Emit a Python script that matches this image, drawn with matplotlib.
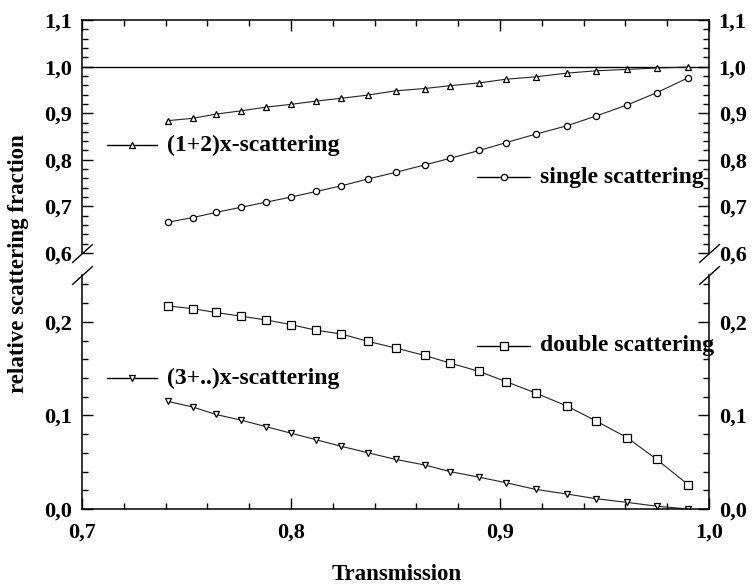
import matplotlib
matplotlib.use("Agg")
import matplotlib.pyplot as plt
from matplotlib.ticker import MultipleLocator, FuncFormatter

plt.rcParams['font.family'] = ['Liberation Serif', 'DejaVu Serif']
plt.rcParams['font.weight'] = 'bold'

# transmission values
trans = [0.741, 0.753, 0.764, 0.776, 0.788, 0.800, 0.812, 0.824, 0.837, 0.850,
         0.864, 0.876, 0.890, 0.903, 0.917, 0.932, 0.946, 0.961, 0.975, 0.990]
# (1+2)x-scattering
multi12 = [0.884, 0.889, 0.898, 0.905, 0.913, 0.919, 0.926, 0.932, 0.939, 0.948,
           0.953, 0.959, 0.965, 0.973, 0.978, 0.986, 0.991, 0.994, 0.997, 0.999]
# single scattering
single = [0.666, 0.676, 0.687, 0.698, 0.709, 0.720, 0.732, 0.744, 0.759, 0.773,
          0.789, 0.803, 0.820, 0.837, 0.855, 0.873, 0.894, 0.918, 0.944, 0.976]
# double scattering
double = [0.217, 0.214, 0.210, 0.206, 0.202, 0.197, 0.191, 0.187, 0.179, 0.172,
          0.164, 0.156, 0.147, 0.136, 0.124, 0.110, 0.094, 0.076, 0.053, 0.026]
# (3+..)x-scattering
multi3 = [0.115, 0.109, 0.101, 0.095, 0.088, 0.081, 0.074, 0.067, 0.060, 0.053,
          0.047, 0.040, 0.034, 0.028, 0.021, 0.016, 0.011, 0.007, 0.003, 0.000]

W, H = 754, 588
fig = plt.figure(figsize=(W / 100, H / 100), dpi=100)

def fx(px):
    return px / W

def fy(py):
    return 1 - py / H

ax_top = fig.add_axes([fx(82), fy(253), fx(709) - fx(82), fy(20) - fy(253)])
ax_bot = fig.add_axes([fx(82), fy(509), fx(709) - fx(82), fy(275) - fy(509)])

comma = FuncFormatter(lambda v, p: ('%.1f' % v).replace('.', ','))
lw = 0.8
ms_kw = dict(color='#222222', lw=lw, mfc='white', mec='black', mew=0.9)

ax_top.axhline(1.0, color='black', lw=1.0)
ax_top.plot(trans, multi12, marker='^', ms=5, **ms_kw)
ax_top.plot(trans, single, marker='o', ms=4.5, **ms_kw)
ax_bot.plot(trans, double, marker='s', ms=5.5, **ms_kw)
ax_bot.plot(trans, multi3, marker='v', ms=5, **ms_kw)

ax_top.set_ylim(0.6, 1.1)
ax_bot.set_ylim(0.0, 0.25)
for ax in (ax_top, ax_bot):
    ax.set_xlim(0.7, 1.0)
    ax.xaxis.set_major_locator(MultipleLocator(0.1))
    ax.xaxis.set_minor_locator(MultipleLocator(0.02))
    ax.yaxis.set_major_locator(MultipleLocator(0.1))
    ax.yaxis.set_minor_locator(MultipleLocator(0.02))
    ax.xaxis.set_major_formatter(comma)
    ax.yaxis.set_major_formatter(comma)
    ax.tick_params(which='both', direction='in', width=1.0, labelsize=16,
                   left=True, right=True, labelleft=True, labelright=True, pad=7)
    ax.tick_params(which='major', length=8)
    ax.tick_params(which='minor', length=4)
    for s in ax.spines.values():
        s.set_linewidth(1.1)

ax_top.spines['bottom'].set_visible(False)
ax_top.tick_params(which='both', bottom=False, labelbottom=False, top=True)
ax_bot.spines['top'].set_visible(False)
ax_bot.tick_params(which='both', top=False)
ax_bot.tick_params(axis='x', which='both', pad=10)

# axis break marks
brk = dict(marker=[(-1, -0.9), (1, 0.9)], markersize=15, linestyle='none',
           color='black', mec='black', mew=1.0, clip_on=False)
ax_top.plot([0, 1], [0, 0], transform=ax_top.transAxes, **brk)
ax_bot.plot([0, 1], [1, 1], transform=ax_bot.transAxes, **brk)

# in-plot legend keys
def key(ax, x0, x1, y, marker, ms, label):
    ax.plot([x0, x1], [y, y], transform=ax.transAxes, color='black', lw=1.0,
            clip_on=False)
    ax.plot([(x0 + x1) / 2], [y], transform=ax.transAxes, marker=marker, ms=ms,
            mfc='white', mec='black', mew=0.9, clip_on=False)
    ax.text(x1 + 0.016, y, label, transform=ax.transAxes, fontsize=17,
            fontweight='bold', va='center', ha='left')

def ax_x(px):
    return (px - 82) / (709 - 82)

key(ax_top, ax_x(107), ax_x(157), (253 - 145) / 233, '^', 5, '(1+2)x-scattering')
key(ax_top, ax_x(477), ax_x(530), (253 - 177) / 233, 'o', 4.5, 'single scattering')
key(ax_bot, ax_x(477), ax_x(530), (509 - 346) / 234, 's', 5.5, 'double scattering')
key(ax_bot, ax_x(107), ax_x(157), (509 - 378) / 234, 'v', 5, '(3+..)x-scattering')

fig.text(fx(397), fy(575), 'Transmission', fontsize=16.5, fontweight='bold',
         ha='center', va='center')
fig.text(fx(19), fy(264), 'relative scattering fraction', fontsize=16.5,
         fontweight='bold', rotation=90, ha='center', va='center')

fig.savefig('out.png', dpi=100)
